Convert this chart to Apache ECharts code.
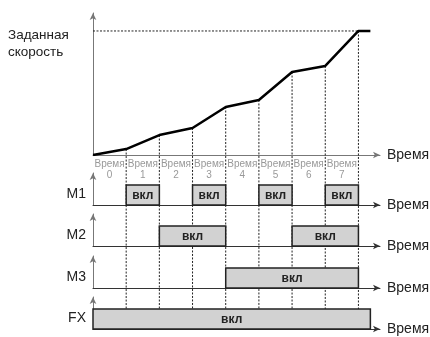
<!DOCTYPE html>
<html>
<head>
<meta charset="utf-8">
<script src="https://cdn.jsdelivr.net/npm/echarts@6/dist/echarts.min.js"></script>
<style>
html, body { margin: 0; padding: 0; background: #fff; }
#chart { width: 430px; height: 337px; }
</style>
</head>
<body>
<div id="chart"></div>
<script>
// данные диаграммы
var speedX = [0, 1, 2, 3, 4, 5, 6, 7, 8, 8.36];
var speedY = [0, 4.8, 16.1, 21.8, 38.7, 44.4, 66.9, 71.8, 100, 100];
var refSpeed = 100;
var stepLabels = ['0', '1', '2', '3', '4', '5', '6', '7'];
var rowNames = ['M1', 'M2', 'M3', 'FX'];
var m1On = [[1, 2], [3, 4], [5, 6], [7, 8]];
var m2On = [[2, 4], [6, 8]];
var m3On = [[4, 8]];
var fxOn = [[0, 8.36]];
var rowOn = [m1On, m2On, m3On, fxOn];
var timeName = 'Время';
var onText = 'вкл';
var speedName = 'Заданная\nскорость';

// разметка
var FONT = "'Liberation Sans', Arial, sans-serif";
var GRID_LEFT = 93, GRID_W = 287, X_MAX = 8.65;
var speedGrid = { top: 13, height: 142, max: 114.5 };
var rowGrids = [
    { top: 173, height: 32 },
    { top: 214, height: 32 },
    { top: 256, height: 32 },
    { top: 297, height: 32 }
];
var ROW_MAX = 1.6;
var GUIDE_BOTTOM = 329;

var chart = echarts.init(document.getElementById('chart'));

var grids = [], xAxes = [], yAxes = [], series = [];

function addAxes(g, ymax, xColor) {
    grids.push({ left: GRID_LEFT, width: GRID_W, top: g.top, height: g.height, containLabel: false, outerBoundsMode: 'none' });
    var idx = grids.length - 1;
    xAxes.push({
        gridIndex: idx, type: 'value', min: 0, max: X_MAX,
        axisLine: { show: true, symbol: ['none', 'arrow'], symbolSize: [5, 7], lineStyle: { color: xColor, width: 1 } },
        axisTick: { show: false }, axisLabel: { show: false }, splitLine: { show: false },
        name: timeName, nameLocation: 'end', nameGap: 7,
        nameTextStyle: { color: '#222', fontSize: 14, fontFamily: FONT }
    });
    yAxes.push({
        gridIndex: idx, type: 'value', min: 0, max: ymax,
        axisLine: { show: true, symbol: ['none', 'arrow'], symbolSize: [5, 7], lineStyle: { color: '#777', width: 1 } },
        axisTick: { show: false }, axisLabel: { show: false }, splitLine: { show: false }
    });
    return idx;
}

addAxes(speedGrid, speedGrid.max, '#777');
rowGrids.forEach(function (g) { addAxes(g, ROW_MAX, '#333'); });

// пунктир от точек кривой вниз
var guideData = [];
for (var i = 1; i <= 8; i++) guideData.push([speedX[i], speedY[i]]);
series.push({
    type: 'custom', xAxisIndex: 0, yAxisIndex: 0, clip: false, z: 1,
    data: guideData,
    renderItem: function (params, api) {
        var p = api.coord([api.value(0), api.value(1)]);
        return {
            type: 'line',
            shape: { x1: p[0], y1: p[1], x2: p[0], y2: GUIDE_BOTTOM },
            style: { stroke: '#222', lineWidth: 1, lineDash: [2, 1.5] }
        };
    }
});

// заданная скорость — горизонтальный пунктир
series.push({
    type: 'line', xAxisIndex: 0, yAxisIndex: 0, z: 1,
    data: [[0, refSpeed], [8, refSpeed]],
    symbol: 'none', silent: true,
    lineStyle: { color: '#222', width: 1, type: [2, 1.5] }
});

// кривая скорости
series.push({
    type: 'line', xAxisIndex: 0, yAxisIndex: 0, z: 5,
    data: speedX.map(function (x, k) { return [x, speedY[k]]; }),
    symbol: 'none',
    lineStyle: { color: '#000', width: 2.5 }
});

// подписи шагов
series.push({
    type: 'custom', xAxisIndex: 0, yAxisIndex: 0, clip: false, z: 3,
    data: stepLabels.map(function (s, k) { return [k + 0.5, 0, s]; }),
    renderItem: function (params, api) {
        var p = api.coord([api.value(0), 0]);
        return {
            type: 'text', x: p[0], y: p[1] + 3,
            style: {
                text: timeName + '\n' + stepLabels[params.dataIndex],
                fill: '#999', font: '10px ' + FONT, lineHeight: 11.5,
                align: 'center', verticalAlign: 'top'
            }
        };
    }
});

// импульсы M1, M2, M3, FX
rowOn.forEach(function (list, r) {
    var gi = r + 1;
    series.push({
        type: 'custom', xAxisIndex: gi, yAxisIndex: gi, clip: false, z: 4,
        data: list,
        renderItem: function (params, api) {
            var a = api.coord([api.value(0), 1]);
            var b = api.coord([api.value(1), 0]);
            return {
                type: 'group',
                children: [{
                    type: 'rect',
                    shape: { x: a[0], y: a[1], width: b[0] - a[0], height: b[1] - a[1] },
                    style: { fill: '#d2d2d2', stroke: '#222', lineWidth: 1.5 }
                }, {
                    type: 'text', x: (a[0] + b[0]) / 2, y: (a[1] + b[1]) / 2 + 0.5,
                    style: { text: onText, fill: '#222', font: '600 12px ' + FONT, align: 'center', verticalAlign: 'middle' }
                }]
            };
        }
    });
    series.push({
        type: 'custom', xAxisIndex: gi, yAxisIndex: gi, clip: false, z: 4,
        data: [[0, 0.5]],
        renderItem: function (params, api) {
            var p = api.coord([0, 0.55]);
            return {
                type: 'text', x: p[0] - 7, y: p[1],
                style: { text: rowNames[r], fill: '#222', font: '14px ' + FONT, align: 'right', verticalAlign: 'middle' }
            };
        }
    });
});

var option = {
    animation: false,
    backgroundColor: '#fff',
    grid: grids,
    xAxis: xAxes,
    yAxis: yAxes,
    graphic: [{
        type: 'text', left: 8, top: 27,
        style: { text: speedName, fill: '#222', font: '13.5px ' + FONT, lineHeight: 17 }
    }],
    series: series
};

chart.setOption(option);
</script>
</body>
</html>
